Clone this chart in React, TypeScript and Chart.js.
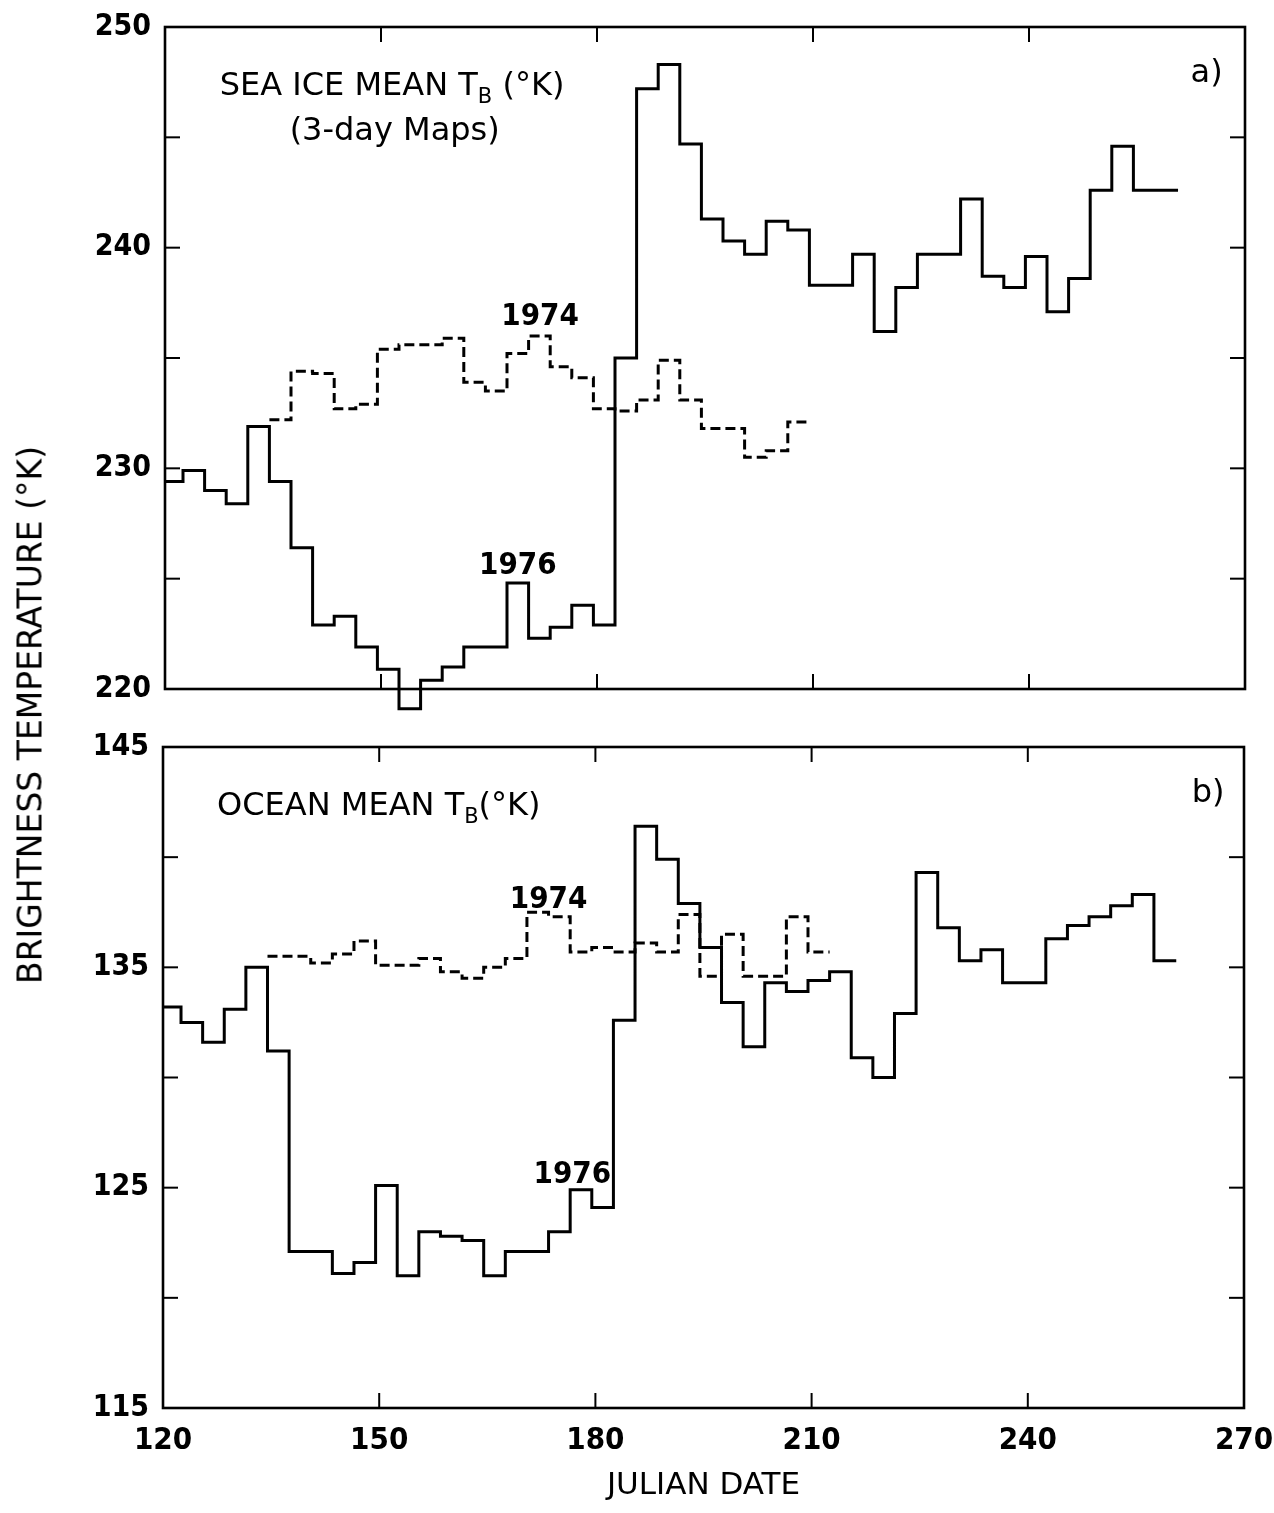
import React, { useEffect, useRef } from 'react';
import { Chart, registerables } from 'chart.js';
Chart.register(...registerables);

// ---------- data ----------
const X_MIN = 120;
const X_MAX = 270;
const X_TICK_STEP = 30;
const xInnerTicks = [150, 180, 210, 240];

// (a) Sea ice mean TB, K
const iceYMin = 220;
const iceYMax = 250;
const iceMinorTicks = [225, 230, 235, 240, 245];

const ice1976Days = [120, 122.5, 125.5, 128.5, 131.5, 134.5, 137.5, 140.5, 143.5, 146.5, 149.5, 152.5, 155.5, 158.5, 161.5, 164.5, 167.5, 170.5, 173.5, 176.5, 179.5, 182.5, 185.5, 188.5, 191.5, 194.5, 197.5, 200.5, 203.5, 206.5, 209.5, 212.5, 215.5, 218.5, 221.5, 224.5, 227.5, 230.5, 233.5, 236.5, 239.5, 242.5, 245.5, 248.5, 251.5, 254.5, 257.5];
const ice1976Values = [229.4, 229.9, 229.0, 228.4, 231.9, 229.4, 226.4, 222.9, 223.3, 221.9, 220.9, 219.1, 220.4, 221.0, 221.9, 221.9, 224.8, 222.3, 222.8, 223.8, 222.9, 235.0, 247.2, 248.3, 244.7, 241.3, 240.3, 239.7, 241.2, 240.8, 238.3, 238.3, 239.7, 236.2, 238.2, 239.7, 239.7, 242.2, 238.7, 238.2, 239.6, 237.1, 238.6, 242.6, 244.6, 242.6, 242.6];
const ice1976End = 260.7;

const ice1974Days = [134.5, 137.5, 140.5, 143.5, 146.5, 149.5, 152.5, 155.5, 158.5, 161.5, 164.5, 167.5, 170.5, 173.5, 176.5, 179.5, 182.5, 185.5, 188.5, 191.5, 194.5, 197.5, 200.5, 203.5, 206.5];
const ice1974Values = [232.2, 234.4, 234.3, 232.7, 232.9, 235.4, 235.6, 235.6, 235.9, 233.9, 233.5, 235.2, 236.0, 234.6, 234.1, 232.7, 232.6, 233.1, 234.9, 233.1, 231.8, 231.8, 230.5, 230.8, 232.1];
const ice1974End = 209.6;

// (b) Ocean mean TB, K
const oceanYMin = 115;
const oceanYMax = 145;
const oceanMinorTicks = [120, 125, 130, 135, 140];

const ocean1976Days = [120, 122.5, 125.5, 128.5, 131.5, 134.5, 137.5, 140.5, 143.5, 146.5, 149.5, 152.5, 155.5, 158.5, 161.5, 164.5, 167.5, 170.5, 173.5, 176.5, 179.5, 182.5, 185.5, 188.5, 191.5, 194.5, 197.5, 200.5, 203.5, 206.5, 209.5, 212.5, 215.5, 218.5, 221.5, 224.5, 227.5, 230.5, 233.5, 236.5, 239.5, 242.5, 245.5, 248.5, 251.5, 254.5, 257.5];
const ocean1976Values = [133.2, 132.5, 131.6, 133.1, 135.0, 131.2, 122.1, 122.1, 121.1, 121.6, 125.1, 121.0, 123.0, 122.8, 122.6, 121.0, 122.1, 122.1, 123.0, 124.9, 124.1, 132.6, 141.4, 139.9, 137.9, 135.9, 133.4, 131.4, 134.3, 133.9, 134.4, 134.8, 130.9, 130.0, 132.9, 139.3, 136.8, 135.3, 135.8, 134.3, 134.3, 136.3, 136.9, 137.3, 137.8, 138.3, 135.3];
const ocean1976End = 260.6;

const ocean1974Days = [134.5, 137.5, 140.5, 143.5, 146.5, 149.5, 152.5, 155.5, 158.5, 161.5, 164.5, 167.5, 170.5, 173.5, 176.5, 179.5, 182.5, 185.5, 188.5, 191.5, 194.5, 197.5, 200.5, 203.5, 206.5, 209.5];
const ocean1974Values = [135.5, 135.5, 135.2, 135.6, 136.2, 135.1, 135.1, 135.4, 134.8, 134.5, 135.0, 135.4, 137.5, 137.3, 135.7, 135.9, 135.7, 136.1, 135.7, 137.4, 134.6, 136.5, 134.6, 134.6, 137.3, 135.7];
const ocean1974End = 212.5;

// ---------- styling ----------
const TITLE_FONT = '"DejaVu Sans", "Liberation Sans", Arial, sans-serif';
const NUM_FONT = '"DejaVu Sans Condensed", "Liberation Sans Narrow", "Liberation Sans", Arial, sans-serif';

type Seg = { t: string; size: number; weight?: string; dy?: number };
type Txt = { segs: Seg[]; x: number; y: number; align: 'left' | 'center' | 'right' };

const topTexts: Txt[] = [
  { segs: [{ t: 'SEA ICE MEAN T', size: 32 }, { t: 'B', size: 21, dy: 8 }, { t: ' (°K)', size: 32 }], x: 127.6, y: 246.9, align: 'left' },
  { segs: [{ t: '(3-day Maps)', size: 32 }], x: 151.9, y: 244.9, align: 'center' },
  { segs: [{ t: 'a)', size: 32 }], x: 266.9, y: 247.5, align: 'right' },
  { segs: [{ t: '1974', size: 31, weight: 'bold' }], x: 172.1, y: 236.5, align: 'center' },
  { segs: [{ t: '1976', size: 31, weight: 'bold' }], x: 169.0, y: 225.2, align: 'center' },
];
const bottomTexts: Txt[] = [
  { segs: [{ t: 'OCEAN MEAN T', size: 32 }, { t: 'B', size: 21, dy: 8 }, { t: '(°K)', size: 32 }], x: 127.5, y: 141.9, align: 'left' },
  { segs: [{ t: 'b)', size: 32 }], x: 267.3, y: 142.5, align: 'right' },
  { segs: [{ t: '1974', size: 31, weight: 'bold' }], x: 173.5, y: 137.7, align: 'center' },
  { segs: [{ t: '1976', size: 31, weight: 'bold' }], x: 176.8, y: 125.2, align: 'center' },
];

function stepData(days: number[], values: number[], end: number) {
  const pts = days.map((d, i) => ({ x: d, y: values[i] }));
  pts.push({ x: end, y: values[values.length - 1] });
  return pts;
}

function makePanelPlugin(yTicks: number[], texts: Txt[]) {
  return {
    id: 'panelFrame',
    afterDatasetsDraw(chart: any) {
      const { ctx, chartArea: ca, scales } = chart;
      const xs = scales.x;
      const ys = scales.y;
      ctx.save();
      ctx.strokeStyle = '#000';
      ctx.lineWidth = 2.6;
      ctx.strokeRect(ca.left, ca.top, ca.right - ca.left, ca.bottom - ca.top);
      ctx.lineWidth = 2;
      const L = 15;
      const seg = (x1: number, y1: number, x2: number, y2: number) => {
        ctx.beginPath();
        ctx.moveTo(x1, y1);
        ctx.lineTo(x2, y2);
        ctx.stroke();
      };
      for (const v of yTicks) {
        const y = ys.getPixelForValue(v);
        seg(ca.left, y, ca.left + L, y);
        seg(ca.right - L, y, ca.right, y);
      }
      for (const v of xInnerTicks) {
        const x = xs.getPixelForValue(v);
        seg(x, ca.top, x, ca.top + L);
        seg(x, ca.bottom - L, x, ca.bottom);
      }
      ctx.fillStyle = '#000';
      ctx.textBaseline = 'alphabetic';
      ctx.textAlign = 'left';
      for (const t of texts) {
        const fonts = t.segs.map((s) => `${s.weight || 'normal'} ${s.size}px ${s.weight === 'bold' ? NUM_FONT : TITLE_FONT}`);
        let total = 0;
        const widths = t.segs.map((s, i) => {
          ctx.font = fonts[i];
          const w = ctx.measureText(s.t).width;
          total += w;
          return w;
        });
        let x = xs.getPixelForValue(t.x);
        const y = ys.getPixelForValue(t.y);
        if (t.align === 'center') x -= total / 2;
        else if (t.align === 'right') x -= total;
        t.segs.forEach((s, i) => {
          ctx.font = fonts[i];
          ctx.fillText(s.t, x, y + (s.dy || 0));
          x += widths[i];
        });
      }
      ctx.restore();
    },
  };
}

function lineDataset(data: { x: number; y: number }[], dashed: boolean) {
  return {
    data,
    borderColor: '#000',
    borderWidth: 3,
    borderDash: dashed ? [10, 5] : [],
    pointRadius: 0,
    stepped: 'before' as const,
    tension: 0,
    fill: false,
    clip: false as any,
    borderCapStyle: 'butt' as const,
    borderJoinStyle: 'miter' as const,
  };
}

function PanelChart(props: {
  width: number;
  height: number;
  top: number;
  yMin: number;
  yMax: number;
  yWidth: number;
  padding: { top: number; right: number; bottom: number; left: number };
  showX: boolean;
  minor: number[];
  texts: Txt[];
  series: { data: { x: number; y: number }[]; dashed: boolean }[];
}) {
  const ref = useRef<HTMLCanvasElement | null>(null);
  useEffect(() => {
    if (!ref.current) return;
    const chart = new Chart(ref.current, {
      type: 'line',
      data: { datasets: props.series.map((s) => lineDataset(s.data, s.dashed)) as any },
      options: {
        animation: false,
        responsive: false,
        events: [],
        layout: { padding: props.padding },
        plugins: { legend: { display: false }, tooltip: { enabled: false } },
        scales: {
          x: {
            type: 'linear',
            min: X_MIN,
            max: X_MAX,
            display: props.showX,
            grid: { display: false },
            border: { display: false },
            ticks: {
              stepSize: X_TICK_STEP,
              color: '#000',
              padding: 6,
              font: { family: NUM_FONT, size: 31, weight: 'bold' },
              maxRotation: 0,
            },
            title: {
              display: true,
              text: 'JULIAN DATE',
              color: '#000',
              font: { family: TITLE_FONT, size: 31 },
              padding: { top: 0, bottom: 8 },
            },
            afterFit: (s: any) => {
              s.height = props.showX ? 105 : 0;
              s.paddingLeft = 0;
              s.paddingRight = 0;
            },
          },
          y: {
            type: 'linear',
            min: props.yMin,
            max: props.yMax,
            grid: { display: false },
            border: { display: false },
            ticks: {
              stepSize: 10,
              color: '#000',
              padding: 6,
              font: { family: NUM_FONT, size: 30, weight: 'bold' },
            },
            afterFit: (s: any) => {
              s.width = props.yWidth;
            },
          },
        },
      },
      plugins: [makePanelPlugin(props.minor, props.texts)],
    });
    return () => chart.destroy();
  }, []);
  return (
    <canvas
      ref={ref}
      width={props.width}
      height={props.height}
      style={{ position: 'absolute', left: 0, top: props.top, width: props.width, height: props.height }}
    />
  );
}

export default function App() {
  return (
    <div style={{ position: 'absolute', left: 0, top: 0, width: 1274, height: 1513, background: '#fff' }}>
      <PanelChart
        width={1274}
        height={720}
        top={0}
        yMin={iceYMin}
        yMax={iceYMax}
        yWidth={165}
        padding={{ top: 27, right: 29, bottom: 31, left: 0 }}
        showX={false}
        minor={iceMinorTicks}
        texts={topTexts}
        series={[
          { data: stepData(ice1976Days, ice1976Values, ice1976End), dashed: false },
          { data: stepData(ice1974Days, ice1974Values, ice1974End), dashed: true },
        ]}
      />
      <PanelChart
        width={1274}
        height={793}
        top={720}
        yMin={oceanYMin}
        yMax={oceanYMax}
        yWidth={163}
        padding={{ top: 27, right: 30, bottom: 0, left: 0 }}
        showX={true}
        minor={oceanMinorTicks}
        texts={bottomTexts}
        series={[
          { data: stepData(ocean1976Days, ocean1976Values, ocean1976End), dashed: false },
          { data: stepData(ocean1974Days, ocean1974Values, ocean1974End), dashed: true },
        ]}
      />
      <div
        style={{
          position: 'absolute',
          left: 30,
          top: 715,
          transform: 'translate(-50%, -50%) rotate(-90deg)',
          whiteSpace: 'nowrap',
          fontFamily: TITLE_FONT,
          fontSize: 33,
          color: '#000',
          lineHeight: 1,
        }}
      >
        BRIGHTNESS TEMPERATURE (°K)
      </div>
    </div>
  );
}
